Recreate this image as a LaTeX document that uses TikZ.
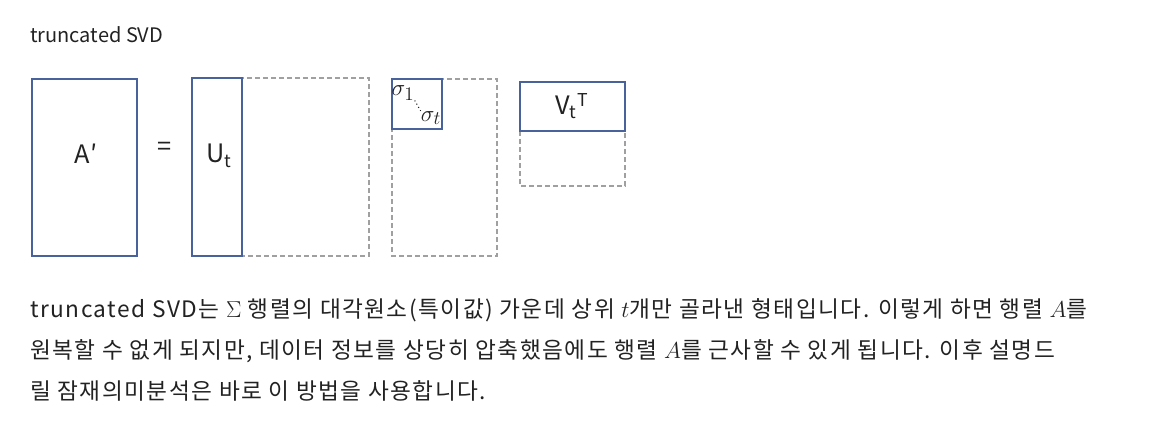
\documentclass[tikz,border=0pt]{standalone}
\usepackage{fontspec}
\setmainfont{Noto Sans CJK KR}
\newfontfamily\bodyfont[LetterSpace=6.5]{Noto Sans CJK KR}
\usetikzlibrary{positioning}
\definecolor{boxblue}{RGB}{74,98,156}
\definecolor{dashgray}{RGB}{160,160,160}
\definecolor{inkgray}{RGB}{34,34,34}

\begin{document}
\begin{tikzpicture}[
    x=0.75pt, y=-0.75pt,
    solidbox/.style={draw=boxblue, line width=1.3pt},
    dashbox/.style={draw=dashgray, line width=1pt, dash pattern=on 3.5pt off 2.5pt},
    lbl/.style={font=\fontsize{19}{22}\selectfont, text=inkgray, inner sep=0pt},
    sig/.style={font=\fontsize{19}{22}\selectfont, text=inkgray, inner sep=0pt},
    body/.style={anchor=base west, inner sep=0pt, font=\bodyfont\fontsize{17}{20}\selectfont, text=inkgray}
]
    \useasboundingbox (0,0) rectangle (1149,426);
    \node[anchor=base west, inner sep=0pt, text=inkgray, font=\fontsize{15}{18}\selectfont] (title) at (30,42) {truncated SVD};

    % matrices: dashed parts first, solid parts on top
    \draw[dashbox]  (242,78) rectangle (369,256);
    \draw[dashbox]  (392,79) rectangle (497,256);
    \draw[dashbox]  (520,131) rectangle (625,186);
    \draw[solidbox] (32,79) rectangle (137,256);
    \draw[solidbox] (192,78) rectangle (242,256);
    \draw[solidbox] (392,79) rectangle (442,129);
    \draw[solidbox] (520,82) rectangle (625,131);

    \node[lbl] (aprime) at (86,154) {A′};
    \node[lbl] (eq)     at (165,149) {=};
    \node[lbl] (ut)     at (219,156) {U\textsubscript{t}};
    \node[lbl] (vt)     at (572,106) {V\textsubscript{t}\textsuperscript{T}};
    \node[sig] (s1)     at (403,93)  {$\sigma_1$};
    \node[sig] (st)     at (431,118) {$\sigma_t$};
    \draw[inkgray, dotted, thick] (s1.south east) -- (st.north west);

    % explanation
    \node[body] (line1) at (30,317) {truncated SVD는 $\Sigma$ 행렬의 대각원소(특이값) 가운데 상위 $t$개만 골라낸 형태입니다. 이렇게 하면 행렬 $A$를};
    \node[body] (line2) at (30,358) {원복할 수 없게 되지만, 데이터 정보를 상당히 압축했음에도 행렬 $A$를 근사할 수 있게 됩니다. 이후 설명드};
    \node[body] (line3) at (30,399) {릴 잠재의미분석은 바로 이 방법을 사용합니다.};
\end{tikzpicture}
\end{document}
